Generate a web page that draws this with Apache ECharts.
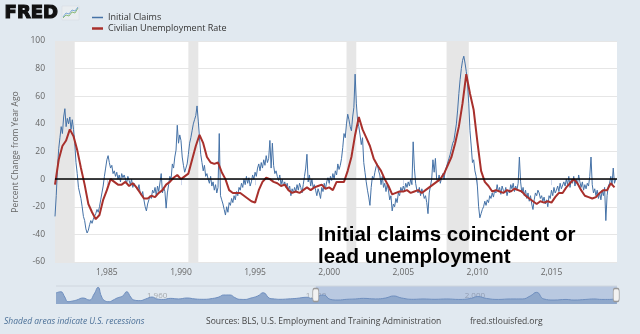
<!DOCTYPE html>
<html><head><meta charset="utf-8">
<script src="https://cdn.jsdelivr.net/npm/echarts@6/dist/echarts.min.js"></script>
<style>html,body{margin:0;padding:0;background:#e1e9f0}#c{width:640px;height:334px}</style>
</head><body><div id="c"></div>
<script>
// Initial Claims, % change from year ago, monthly from Jul 1981
const blueStart = 1981.5;
const blueValues = [
 -27,-12,8,22,30,38,
 33,45,51,38,44,40,45,36,43,36,26,12,
 4,-6,-10,-14,-20,-27,-30,-36,-39,-37,-33,-30,
 -32,-29,-27,-25,-22,-24,-20,-15,-10,-5,2,8,
 14,17,12,8,10,4,6,2,5,0,3,-2,
 4,1,3,0,-3,2,-1,-4,0,-6,-3,-5,
 -5,-8,-4,-10,-12,-9,-15,-20,-23,-18,-15,-12,
 -14,-8,-10,-6,-12,-5,-9,-8,4,-10,-6,-9,
 -21,-10,-4,2,0,11,8,16,21,39,26,32,
 28,16,10,5,8,11,18,26,30,35,40,43,
 46,53,42,30,18,12,6,10,2,4,0,-3,
 2,-5,-2,-8,-4,-10,-6,33,-12,-15,-18,-22,
 -26,-20,-24,-17,-19,-14,-17,-12,-15,-9,-12,-6,
 -8,-3,-6,0,-4,2,-3,1,-5,-2,3,0,
 5,2,8,11,6,12,8,14,10,17,12,15,
 28,8,26,10,4,6,2,-1,3,-4,0,-5,
 -2,-6,-3,-8,-5,-12,-7,-10,-6,-9,-4,-8,
 -3,-6,-10,-4,2,8,18,-2,3,-5,0,-6,
 -4,-8,-12,-7,-10,-14,-6,-9,-3,-7,-2,1,
 -3,2,-1,4,0,6,3,11,7,10,15,23,
 33,30,40,47,43,38,35,45,52,76,55,42,
 38,32,25,30,12,5,-2,-8,-13,-19,-6,2,
 0,5,9,11,6,3,-4,2,-6,-3,-9,-4,
 -8,-15,-12,-23,-18,-20,-14,-17,-10,-12,-6,-9,
 -5,-8,-3,-6,-2,-5,0,-4,27,8,-3,-8,
 -10,-6,-12,-7,-10,-14,-12,-17,-25,-10,-5,0,
 14,5,15,0,-2,3,-3,1,4,0,6,9,
 8,15,18,22,26,28,34,40,50,62,72,80,
 86,89,84,78,69,55,35,24,12,14,6,2,
 -5,-20,-28,-25,-22,-20,-16,-19,-15,-17,-12,-14,
 -10,-13,-8,-10,-4,-9,-6,-11,-5,-8,-10,-6,
 -12,-8,-10,-4,-7,-3,-9,-5,-8,-3,16,-2,
 -10,-6,-12,-8,-14,-10,-16,-12,-18,-22,-15,-10,
 -12,-8,-10,-14,-12,-16,-13,-18,-15,-20,-12,-14,
 -8,-12,-6,-10,-8,-5,-9,-3,-7,-8,-2,-5,
 0,-4,2,-6,0,-3,2,-5,0,-4,3,-2,
 -6,-2,-8,-4,-7,-3,-5,2,16,-4,-10,-7,
 -12,-8,-14,-10,-15,-8,-12,-6,-30,-12,-5,-3,
 2,-4,8,-3,0
];
// Civilian Unemployment Rate, % change from year ago, quarterly from Jul 1981
const redStart = 1981.5;
const redValues = [
 -4,14,
 24,28,36,31, 21,8,-4,-18, -24,-29,-26,-15, -8,0,-2,-4,
 -4,-2,-5,-3, -6,-10,-14,-14, -12,-13,-10,-8, -4,-2,1,3,
 0,2,4,14, 24,32,26,16, 12,11,12,5, 0,-8,-10,-10,
 -10,-12,-14,-16, -17,-8,-2,1, 0,-2,-3,-5, -4,-8,-10,-9,
 -10,-8,-6,-8, -6,-5,-4,-7, -6,-8,-2,-2, -2,6,16,32,
 45,36,30,24, 15,10,6,0, -5,-11,-10,-9, -9,-8,-10,-9,
 -8,-10,-8,-6, -4,-2,0,4, 10,16,26,38, 55,76,62,50,
 27,6,-2,-5, -9,-8,-9,-10, -8,-9,-7,-8, -9,-12,-14,-16,
 -18,-16,-17,-16, -17,-13,-10,-10, -6,-3,0,-3, -8,-12,-13,-14,
 -13,-10,-8,-8, -3,-6
];
const recessions = [[1981.5,1982.83],[1990.5,1991.17],[2001.17,2001.83],[2007.92,2009.42]];
const xTicks = [1985,1990,1995,2000,2005,2010,2015];
const xRange = [1981.5, 2019.42];
// navigator (full history) shape
const navYears = [1948.8,1949.4,1949.9,1950.3,1950.9,1951.4,1952.2,1953.0,1953.6,1954.1,1954.5,1954.9,1955.5,1956.0,1956.5,1957.2,1957.7,1958.2,1958.6,1959.4,1960.1,1960.9,1961.5,1962.3,1963.2,1964.2,1965.3,1966.3,1967.4,1968.5,1969.3,1969.9,1970.7,1971.3,1971.9,1972.6,1973.2,1974.2,1974.9,1975.7,1976.3,1977.0,1978.0,1979.1,1980.4,1981.0,1982.5,1983.3,1984.3,1985.4,1986.5,1987.5,1989.0,1990.3,1991.3,1992.3,1993.8,1995.0,1996.5,1998.0,1999.5,2001.0,2001.9,2003.0,2004.5,2006.0,2007.5,2008.5,2009.3,2010.2,2011.5,2013.0,2014.0,2015.5,2016.5,2017.5,2018.5,2019.4];
const navValues = [52,62,18,-21,-15,-7,10,-7,43,99,27,-11,-21,-7,10,27,62,18,-7,-12,2,18,2,-2,7,2,10,2,-1,6,18,35,35,14,-1,-2,7,27,54,7,2,-1,2,7,16,6,35,-1,-7,-1,2,7,2,10,27,10,-1,2,-1,2,-2,6,22,6,-2,2,2,27,57,2,-7,-2,-7,-2,2,-2,-2,6];
const navTicks = [1960,1980,2000];
const navRange = [1948.8, 2019.42];
const navSelection = [1981.5, 2019.42];

const blueData = blueValues.map((v,i)=>[blueStart + i/12, v]);
const redData = redValues.map((v,i)=>[redStart + i/4, v]);
const navData = navYears.map((t,i)=>[t, navValues[i]]);

const chart = echarts.init(document.getElementById('c'), null, {renderer:'canvas'});
const smallFont = 'Open Sans';
const legendText = {fontFamily:smallFont, fontSize:9, color:'#333'};
chart.setOption({
  backgroundColor:'#e1e9f0',
  animation:false,
  legend:[
    {left:87, top:8, itemWidth:11, itemHeight:1.5, icon:'rect', itemGap:4,
     data:['Initial Claims'], textStyle:legendText},
    {left:87, top:19, itemWidth:11, itemHeight:2.5, icon:'rect', itemGap:4,
     data:['Civilian Unemployment Rate'], textStyle:legendText}
  ],
  grid:[
    {left:55, right:23, top:41, height:221, backgroundColor:'#ffffff', show:true, borderWidth:0},
    {left:56, right:23, top:286, height:18, show:false}
  ],
  xAxis:[
    {type:'value', gridIndex:0, min:xRange[0], max:xRange[1],
     axisLine:{show:true, lineStyle:{color:'#ccd6eb'}},
     axisTick:{show:true, customValues:xTicks, length:6, lineStyle:{color:'#ccd6eb'}},
     axisLabel:{customValues:xTicks, fontFamily:smallFont, fontSize:8.5, color:'#666', margin:6},
     splitLine:{show:false}},
    {type:'value', gridIndex:1, min:navRange[0], max:navRange[1],
     axisLine:{show:false}, axisTick:{show:false}, splitLine:{show:false},
     axisLabel:{customValues:navTicks, inside:true, margin:4, align:'left', padding:[0,0,0,2],
       fontFamily:smallFont, fontSize:8, color:'rgba(90,90,90,0.45)'}}
  ],
  yAxis:[
    {type:'value', gridIndex:0, min:-60, max:100, interval:20,
     axisLine:{show:false}, axisTick:{show:false},
     axisLabel:{fontFamily:smallFont, fontSize:8.5, color:'#666', margin:10},
     splitLine:{lineStyle:{color:'#e6e6e6', width:1}}},
    {type:'value', gridIndex:1, min:-40, max:110, show:false, splitLine:{show:false}}
  ],
  series:[
    {name:'recessions', type:'line', xAxisIndex:0, yAxisIndex:0, data:[], z:1, silent:true,
     markArea:{silent:true, itemStyle:{color:'#e6e6e6'},
       data: recessions.map(r=>[{xAxis:r[0]},{xAxis:r[1]}])}},
    {name:'Initial Claims', type:'line', xAxisIndex:0, yAxisIndex:0, data:blueData, symbol:'none',
     z:3, color:'#4572a7', lineStyle:{width:1, color:'#4572a7'}},
    {name:'Civilian Unemployment Rate', type:'line', xAxisIndex:0, yAxisIndex:0, data:redData, symbol:'none',
     z:4, color:'#a8302c', lineStyle:{width:2, color:'#a8302c'},
     markLine:{silent:true, symbol:'none', label:{show:false}, lineStyle:{color:'#000', width:1.5, type:'solid'},
       data:[{yAxis:0}]}},
    {name:'nav', type:'line', xAxisIndex:1, yAxisIndex:1, data:navData, symbol:'none', smooth:true, z:2,
     lineStyle:{width:1, color:'#6f8fbf'}, areaStyle:{color:'#8fa8cb', opacity:1, origin:'start'},
     markArea:{silent:true, itemStyle:{color:'rgba(102,133,194,0.32)'},
       data:[[{xAxis:navSelection[0], yAxis:-40},{xAxis:navSelection[1], yAxis:110}]]},
     markPoint:{silent:true, symbol:'roundRect', symbolSize:[6,13], label:{show:false},
       itemStyle:{color:'#f2f2f2', borderColor:'#999', borderWidth:1},
       data:[{coord:[navSelection[0],35]},{coord:[navSelection[1]-0.1,35]}]}}
  ],
  graphic:[
    {type:'text', left:4, top:4, z:100, style:{text:'FRED', font:'bold 18px "DejaVu Sans"', fill:'#111', stroke:'#111', lineWidth:1.2}},
    {type:'rect', z:100, shape:{x:62,y:6,width:17,height:14}, style:{fill:'#e9edf0', stroke:'#d5dbe0', lineWidth:0.5}},
    {type:'polyline', z:101, shape:{points:[[63,18],[66,15],[69,16],[72,12],[75,13],[78,8]]}, style:{stroke:'#8cbc7a', lineWidth:1, fill:null}},
    {type:'polyline', z:101, shape:{points:[[63,17],[66,13],[69,14],[72,10],[75,11],[78,7]]}, style:{stroke:'#7ea9d6', lineWidth:1, fill:null}},
    {type:'line', z:100, shape:{x1:56,y1:286,x2:617,y2:286}, style:{stroke:'#cfd6de', lineWidth:1}},
    {type:'text', z:100, x:16, y:152, rotation:Math.PI/2,
     style:{text:'Percent Change from Year Ago', font:'8.5px "Open Sans"', fill:'#666', align:'center', verticalAlign:'middle'}},
    {type:'text', z:100, x:318, y:235.5, style:{text:'Initial claims coincident or', font:'bold 20.5px "Liberation Sans"', fill:'#000', align:'left', verticalAlign:'middle'}},
    {type:'text', z:100, x:318, y:257, style:{text:'lead unemployment', font:'bold 20.5px "Liberation Sans"', fill:'#000', align:'left', verticalAlign:'middle'}},
    {type:'text', z:100, x:4, y:322, style:{text:'Shaded areas indicate U.S. recessions', font:'italic 8.5px "Open Sans"', fill:'#4a6f97', align:'left', verticalAlign:'middle'}},
    {type:'text', z:100, x:206, y:322, style:{text:'Sources: BLS, U.S. Employment and Training Administration', font:'8.5px "Open Sans"', fill:'#444', align:'left', verticalAlign:'middle'}},
    {type:'text', z:100, x:470, y:322, style:{text:'fred.stlouisfed.org', font:'8.5px "Open Sans"', fill:'#444', align:'left', verticalAlign:'middle'}}
  ]
});
</script></body></html>
